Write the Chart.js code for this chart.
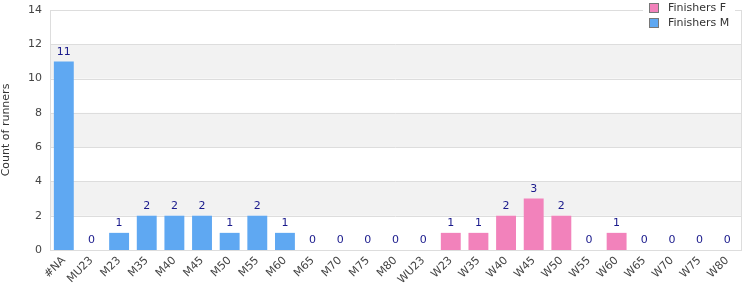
<!DOCTYPE html>
<html>
<head>
<meta charset="utf-8">
<script src="https://cdn.jsdelivr.net/npm/chart.js@4"></script>
<style>
  body { margin: 0; background: #ffffff; }
  #wrap { width: 750px; height: 300px; }
</style>
</head>
<body>
<div id="wrap"><canvas id="myChart"></canvas></div>
<script>
const categories = ['#NA', 'MU23', 'M23', 'M35', 'M40', 'M45', 'M50', 'M55', 'M60', 'M65', 'M70', 'M75', 'M80',
    'WU23', 'W23', 'W35', 'W40', 'W45', 'W50', 'W55', 'W60', 'W65', 'W70', 'W75', 'W80'];
const finishersM = [11, 0, 1, 2, 2, 2, 1, 2, 1, 0, 0, 0, 0, null, null, null, null, null, null, null, null, null, null, null, null];
const finishersF = [null, null, null, null, null, null, null, null, null, null, null, null, null, 0, 1, 1, 2, 3, 2, 0, 1, 0, 0, 0, 0];
const yTicks = [0, 2, 4, 6, 8, 10, 12, 14];

const FONT = 'DejaVu Sans, Verdana, sans-serif';

// grey bands, grid and frame behind the bars
const bandsPlugin = {
    id: 'bands',
    beforeDatasetsDraw(chart) {
        const { ctx, chartArea: a, scales: { y } } = chart;
        ctx.save();
        ctx.fillStyle = '#f2f2f2';
        for (let v = 2; v < 14; v += 4) {
            const top = y.getPixelForValue(v + 2), bot = y.getPixelForValue(v);
            ctx.fillRect(a.left, top, a.right - a.left, bot - top);
        }
        ctx.strokeStyle = '#dddddd';
        ctx.lineWidth = 1;
        yTicks.forEach(v => {
            const py = Math.round(y.getPixelForValue(v)) + 0.5;
            ctx.beginPath();
            ctx.moveTo(a.left, py);
            ctx.lineTo(a.right, py);
            ctx.stroke();
        });
        ctx.strokeRect(Math.round(a.left) + 0.5, Math.round(a.top) + 0.5,
            Math.round(a.right - a.left), Math.round(a.bottom - a.top));
        ctx.restore();
    }
};

// value labels above bars and the legend box
const labelsPlugin = {
    id: 'labels',
    afterDraw(chart) {
        const { ctx } = chart;
        ctx.save();
        ctx.font = '11px ' + FONT;
        ctx.fillStyle = '#1a1a8c';
        ctx.textAlign = 'center';
        ctx.textBaseline = 'bottom';
        chart.data.datasets.forEach((ds, i) => {
            chart.getDatasetMeta(i).data.forEach((bar, j) => {
                if (ds.data[j] === null) return;
                ctx.fillText(String(ds.data[j]), bar.x, bar.y - 4);
            });
        });

        // legend
        ctx.fillStyle = '#ffffff';
        ctx.fillRect(643, 0, 92, 30);
        const items = [['Finishers F', '#f282bb'], ['Finishers M', '#5fa8f2']];
        ctx.textAlign = 'left';
        ctx.textBaseline = 'middle';
        items.forEach((it, k) => {
            const cy = 8 + k * 15;
            ctx.fillStyle = it[1];
            ctx.fillRect(650, cy - 4, 8, 8);
            ctx.strokeStyle = '#777777';
            ctx.lineWidth = 1;
            ctx.strokeRect(649.5, cy - 4.5, 9, 9);
            ctx.fillStyle = '#333333';
            ctx.fillText(it[0], 668, cy);
        });
        ctx.restore();
    }
};

const ctx = document.getElementById('myChart').getContext('2d');
const myChart = new Chart(ctx, {
    type: 'bar',
    data: {
        labels: categories,
        datasets: [{
            label: 'Finishers M',
            data: finishersM,
            backgroundColor: '#5fa8f2',
            borderWidth: 0
        }, {
            label: 'Finishers F',
            data: finishersF,
            backgroundColor: '#f282bb',
            borderWidth: 0
        }]
    },
    options: {
        responsive: true,
        maintainAspectRatio: false,
        animation: false,
        layout: {
            padding: { top: 10, right: 9, left: 0, bottom: 0 }
        },
        categoryPercentage: 0.72,
        barPercentage: 1,
        scales: {
            x: {
                stacked: true,
                grid: { display: false, drawTicks: false },
                border: { display: false },
                ticks: {
                    color: '#444444',
                    font: { family: FONT, size: 11 },
                    minRotation: 45,
                    maxRotation: 45,
                    autoSkip: false,
                    padding: 4
                },
                afterFit: s => { s.height = 50; s.paddingRight = 0; s.paddingLeft = 0; }
            },
            y: {
                stacked: true,
                min: 0,
                max: 14,
                grid: { display: false, drawTicks: false },
                border: { display: false },
                ticks: {
                    stepSize: 2,
                    color: '#444444',
                    font: { family: FONT, size: 11 },
                    padding: 8
                },
                title: {
                    display: true,
                    text: 'Count of runners',
                    color: '#333333',
                    font: { family: FONT, size: 11 },
                    padding: { top: 0, bottom: 4 }
                },
                afterFit: s => { s.width = 50; s.paddingTop = 0; s.paddingBottom = 0; }
            }
        },
        plugins: {
            legend: { display: false },
            tooltip: { enabled: false }
        }
    },
    plugins: [bandsPlugin, labelsPlugin]
});
</script>
</body>
</html>
